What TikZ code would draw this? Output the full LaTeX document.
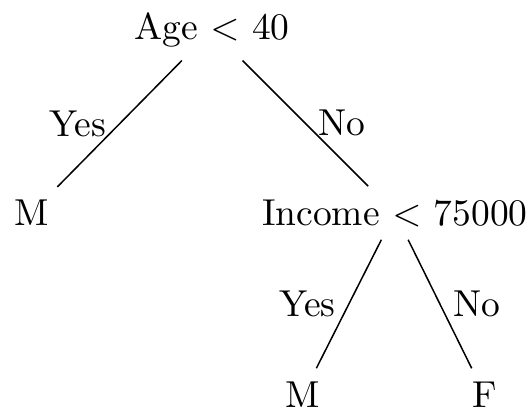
\documentclass[tikz,border=0pt]{standalone}
\usetikzlibrary{positioning}

\begin{document}
\begin{tikzpicture}[
    node distance=1.7cm,
    on grid,
    split/.style={
        align=center
    },
    leaf/.style={
        align=center
    },
    branch/.style={
        thin
    },
    answer/.style={
        inner sep=3.33pt
    }
]
\useasboundingbox (-1.987,-3.562) rectangle (2.981,0.281);

% Root split
\node[split] (age) {Age $<$ 40};

% First level
\node[leaf, below left=1.715cm and 1.69cm of age] (young) {M};
\node[split, below right=1.715cm and 1.715cm of age] (income) {Income $<$ 75000};

% Second level
\node[leaf, below left=1.7cm and 0.86cm of income] (low) {M};
\node[leaf, below right=1.7cm and 0.84cm of income] (high) {F};

% Branches
\draw[branch] (age) -- node[left, answer] {Yes} (young);
\draw[branch] (age) -- node[right, answer] {No} (income);
\draw[branch] (income) -- node[left, answer] {Yes} (low);
\draw[branch] (income) -- node[right, answer] {No} (high);

\end{tikzpicture}
\end{document}
